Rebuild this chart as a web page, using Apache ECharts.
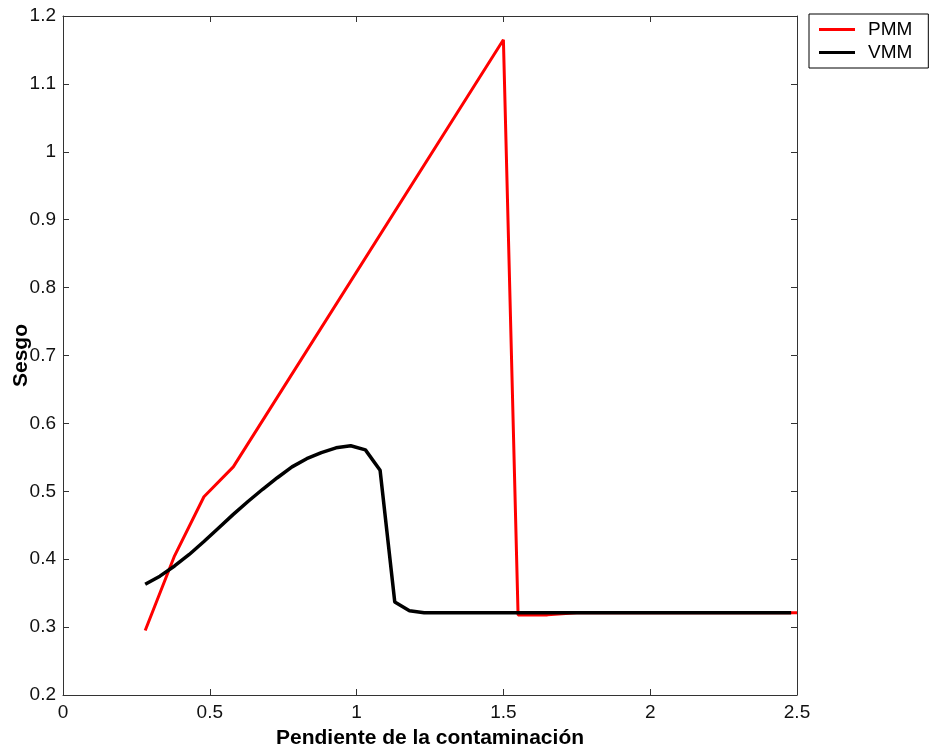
<!DOCTYPE html>
<html>
<head>
<meta charset="utf-8">
<script src="https://cdn.jsdelivr.net/npm/echarts@6/dist/echarts.min.js"></script>
<style>html,body{margin:0;padding:0;background:#fff;}#c{width:931px;height:751px;}</style>
</head>
<body>
<div id="c"></div>
<script>
var pmmX = [0.28, 0.38, 0.48, 0.58, 1.50, 1.55, 1.65, 1.75, 2.00, 2.25, 2.50];
var pmmY = [0.295, 0.405, 0.492, 0.536, 1.165, 0.318, 0.318, 0.321, 0.321, 0.321, 0.321];

var vmmX = [0.28, 0.33, 0.38, 0.43, 0.48, 0.53, 0.58, 0.63, 0.68, 0.73, 0.78, 0.83, 0.88, 0.93, 0.98, 1.03, 1.08, 1.13, 1.18, 1.23, 1.48, 1.73, 1.98, 2.23, 2.48];
var vmmY = [0.363, 0.375, 0.390, 0.407, 0.426, 0.446, 0.466, 0.485, 0.503, 0.520, 0.536, 0.548, 0.557, 0.564, 0.567, 0.561, 0.531, 0.337, 0.324, 0.321, 0.321, 0.321, 0.321, 0.321, 0.321];

var seriesNames = ['PMM', 'VMM'];
var xTitle = 'Pendiente de la contaminación';
var yTitle = 'Sesgo';

function pairs(xs, ys) { return xs.map(function (x, i) { return [x, ys[i]]; }); }

var FONT = '"Liberation Sans", Arial, sans-serif';
var axisColor = '#333';

var chart = echarts.init(document.getElementById('c'));
chart.setOption({
  animation: false,
  backgroundColor: '#fff',
  grid: { left: 63, right: 134, top: 16, bottom: 56, containLabel: false, outerBoundsMode: 'none' },
  legend: {
    data: seriesNames,
    orient: 'vertical',
    left: 809, top: 14,
    backgroundColor: '#fff',
    borderColor: '#000', borderWidth: 1,
    padding: [6, 16, 6, 10],
    icon: 'rect', itemWidth: 36, itemHeight: 3, itemGap: 4,
    textStyle: { fontFamily: FONT, fontSize: 19, color: '#000', lineHeight: 19, padding: [0, 0, 0, 8] }
  },
  xAxis: [
    {
      type: 'value', min: 0, max: 2.5, interval: 0.5, position: 'bottom',
      name: xTitle, nameLocation: 'middle', nameGap: 33, nameMoveOverlap: false,
      nameTextStyle: { fontFamily: FONT, fontSize: 21, fontWeight: 'bold', color: '#000' },
      axisLine: { show: true, onZero: false, lineStyle: { color: axisColor, width: 1 } },
      axisTick: { show: true, inside: true, length: 6, lineStyle: { color: axisColor } },
      axisLabel: { fontFamily: FONT, fontSize: 19, color: '#111', margin: 8 },
      splitLine: { show: false }
    },
    {
      type: 'value', min: 0, max: 2.5, interval: 0.5, position: 'top',
      axisLine: { show: true, onZero: false, lineStyle: { color: axisColor, width: 1 } },
      axisTick: { show: true, inside: true, length: 6, lineStyle: { color: axisColor } },
      axisLabel: { show: false }, splitLine: { show: false }
    }
  ],
  yAxis: [
    {
      type: 'value', min: 0.2, max: 1.2, interval: 0.1, position: 'left',
      name: yTitle, nameLocation: 'middle', nameGap: 31, nameRotate: 90, nameMoveOverlap: false,
      nameTextStyle: { fontFamily: FONT, fontSize: 21, fontWeight: 'bold', color: '#000' },
      axisLine: { show: true, onZero: false, lineStyle: { color: axisColor, width: 1 } },
      axisTick: { show: true, inside: true, length: 6, lineStyle: { color: axisColor } },
      axisLabel: { fontFamily: FONT, fontSize: 19, color: '#111', margin: 7,
        formatter: function (v) { return String(Math.round(v * 10) / 10); } },
      splitLine: { show: false }
    },
    {
      type: 'value', min: 0.2, max: 1.2, interval: 0.1, position: 'right',
      axisLine: { show: true, onZero: false, lineStyle: { color: axisColor, width: 1 } },
      axisTick: { show: true, inside: true, length: 6, lineStyle: { color: axisColor } },
      axisLabel: { show: false }, splitLine: { show: false }
    }
  ],
  series: [
    {
      name: seriesNames[0], type: 'line', xAxisIndex: 0, yAxisIndex: 0,
      data: pairs(pmmX, pmmY), showSymbol: false, symbol: 'none',
      lineStyle: { color: '#ff0000', width: 3 }, itemStyle: { color: '#ff0000' }, z: 2
    },
    {
      name: seriesNames[1], type: 'line', xAxisIndex: 0, yAxisIndex: 0,
      data: pairs(vmmX, vmmY), showSymbol: false, symbol: 'none',
      lineStyle: { color: '#000000', width: 3.5 }, itemStyle: { color: '#000000' }, z: 3
    }
  ]
});
</script>
</body>
</html>
